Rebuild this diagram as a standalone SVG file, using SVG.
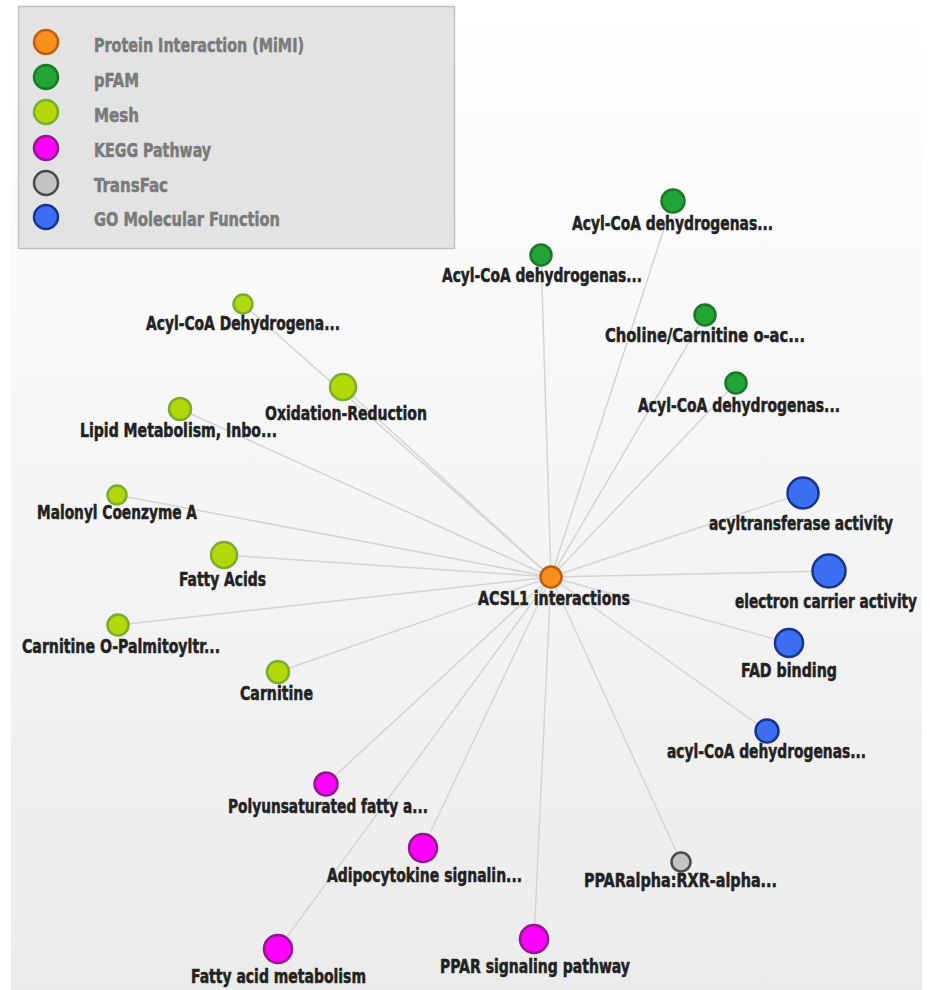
<svg xmlns="http://www.w3.org/2000/svg" width="930" height="990" viewBox="0 0 930 990">
  <defs>
    <linearGradient id="panelFill" x1="0" y1="0" x2="0" y2="1">
      <stop offset="0" stop-color="#ffffff"/>
      <stop offset="1" stop-color="#ebebeb"/>
    </linearGradient>
    <style>
      text { font-family: "Liberation Sans Narrow", "DejaVu Sans Condensed", "Liberation Sans", sans-serif; font-weight: bold; font-size: 19px; }
      .lbl { fill: #222222; stroke: #222222; stroke-width: 0.5; text-anchor: middle; }
      .leg { fill: #7a7a7a; stroke: #7a7a7a; stroke-width: 0.5; }
      .edge { stroke: #d4d4d4; stroke-width: 1.5; fill: none; }
      .mimi { fill: #f7901e; stroke: #c45a0c; stroke-width: 2.5; }
      .pfam { fill: #23a436; stroke: #187a28; stroke-width: 2.5; }
      .mesh { fill: #b2d809; stroke: #79ad2e; stroke-width: 2.5; }
      .kegg { fill: #ff00ff; stroke: #8e1a8c; stroke-width: 2.5; }
      .tf   { fill: #c3c3c3; stroke: #4a4a4a; stroke-width: 2.5; }
      .go   { fill: #3b6ef0; stroke: #17348e; stroke-width: 2.5; }
    </style>
  </defs>

  <!-- canvas -->
  <rect x="0" y="0" width="930" height="990" fill="#ffffff"/>
  <rect x="11" y="0" width="911" height="990" fill="url(#panelFill)"/>

  <!-- legend -->
  <g id="legend">
    <rect x="18.5" y="6.5" width="436" height="242" fill="#e3e3e3" stroke="#c2c2c2" stroke-width="1.5"/>
    <circle class="mimi" cx="46" cy="42" r="12"/>
    <circle class="pfam" cx="46" cy="77" r="12"/>
    <circle class="mesh" cx="46" cy="112" r="12"/>
    <circle class="kegg" cx="46" cy="148" r="12"/>
    <circle class="tf"   cx="46" cy="183" r="12"/>
    <circle class="go"   cx="46" cy="217" r="12"/>
    <text class="leg" x="94" y="52" textLength="210" lengthAdjust="spacingAndGlyphs">Protein Interaction (MiMI)</text>
    <text class="leg" x="94" y="87" textLength="45" lengthAdjust="spacingAndGlyphs">pFAM</text>
    <text class="leg" x="94" y="122" textLength="45" lengthAdjust="spacingAndGlyphs">Mesh</text>
    <text class="leg" x="94" y="157" textLength="117" lengthAdjust="spacingAndGlyphs">KEGG Pathway</text>
    <text class="leg" x="94" y="192" textLength="74" lengthAdjust="spacingAndGlyphs">TransFac</text>
    <text class="leg" x="94" y="226" textLength="186" lengthAdjust="spacingAndGlyphs">GO Molecular Function</text>
  </g>

  <!-- connectors: every node links to the ACSL1 hub -->
  <g id="connectors">
    <line class="edge" x1="551" y1="577" x2="673" y2="201"/>
    <line class="edge" x1="551" y1="577" x2="541" y2="255"/>
    <line class="edge" x1="551" y1="577" x2="705" y2="315"/>
    <line class="edge" x1="551" y1="577" x2="736" y2="383"/>
    <line class="edge" x1="551" y1="577" x2="243" y2="304"/>
    <line class="edge" x1="551" y1="577" x2="343" y2="387"/>
    <line class="edge" x1="551" y1="577" x2="180" y2="409"/>
    <line class="edge" x1="551" y1="577" x2="117" y2="495"/>
    <line class="edge" x1="551" y1="577" x2="224" y2="555"/>
    <line class="edge" x1="551" y1="577" x2="118" y2="625"/>
    <line class="edge" x1="551" y1="577" x2="278" y2="672"/>
    <line class="edge" x1="551" y1="577" x2="326" y2="784"/>
    <line class="edge" x1="551" y1="577" x2="423" y2="848"/>
    <line class="edge" x1="551" y1="577" x2="278" y2="949"/>
    <line class="edge" x1="551" y1="577" x2="534" y2="939"/>
    <line class="edge" x1="551" y1="577" x2="681" y2="862"/>
    <line class="edge" x1="551" y1="577" x2="803" y2="493"/>
    <line class="edge" x1="551" y1="577" x2="829" y2="571"/>
    <line class="edge" x1="551" y1="577" x2="789" y2="643"/>
    <line class="edge" x1="551" y1="577" x2="767" y2="731"/>
  </g>

  <!-- pFAM -->
  <g id="pfam-1"><circle class="pfam" cx="673" cy="201" r="11.5"/><text class="lbl" x="672.5" y="230" textLength="201" lengthAdjust="spacingAndGlyphs">Acyl-CoA dehydrogenas...</text></g>
  <g id="pfam-2"><circle class="pfam" cx="541" cy="255" r="10.5"/><text class="lbl" x="542" y="282" textLength="200" lengthAdjust="spacingAndGlyphs">Acyl-CoA dehydrogenas...</text></g>
  <g id="pfam-3"><circle class="pfam" cx="705" cy="315" r="10.5"/><text class="lbl" x="705" y="342" textLength="200" lengthAdjust="spacingAndGlyphs">Choline/Carnitine o-ac...</text></g>
  <g id="pfam-4"><circle class="pfam" cx="736" cy="383" r="10.5"/><text class="lbl" x="739" y="412" textLength="202" lengthAdjust="spacingAndGlyphs">Acyl-CoA dehydrogenas...</text></g>

  <!-- Mesh -->
  <g id="mesh-1"><circle class="mesh" cx="243" cy="304" r="9.5"/><text class="lbl" x="243" y="330" textLength="194" lengthAdjust="spacingAndGlyphs">Acyl-CoA Dehydrogena...</text></g>
  <g id="mesh-2"><circle class="mesh" cx="343" cy="387" r="13"/><text class="lbl" x="346" y="420" textLength="162" lengthAdjust="spacingAndGlyphs">Oxidation-Reduction</text></g>
  <g id="mesh-3"><circle class="mesh" cx="180" cy="409" r="11"/><text class="lbl" x="178.5" y="437" textLength="197" lengthAdjust="spacingAndGlyphs">Lipid Metabolism, Inbo...</text></g>
  <g id="mesh-4"><circle class="mesh" cx="117" cy="495" r="9.5"/><text class="lbl" x="117" y="519" textLength="160" lengthAdjust="spacingAndGlyphs">Malonyl Coenzyme A</text></g>
  <g id="mesh-5"><circle class="mesh" cx="224" cy="555" r="13"/><text class="lbl" x="222.5" y="586" textLength="87" lengthAdjust="spacingAndGlyphs">Fatty Acids</text></g>
  <g id="mesh-6"><circle class="mesh" cx="118" cy="625" r="10.5"/><text class="lbl" x="121" y="653" textLength="198" lengthAdjust="spacingAndGlyphs">Carnitine O-Palmitoyltr...</text></g>
  <g id="mesh-7"><circle class="mesh" cx="278" cy="672" r="11"/><text class="lbl" x="276.5" y="700" textLength="73" lengthAdjust="spacingAndGlyphs">Carnitine</text></g>

  <!-- hub -->
  <g id="acsl1"><circle class="mimi" cx="551" cy="577" r="10.5"/><text class="lbl" x="554" y="605" textLength="152" lengthAdjust="spacingAndGlyphs">ACSL1 interactions</text></g>

  <!-- GO Molecular Function -->
  <g id="go-1"><circle class="go" cx="803" cy="493" r="15.5"/><text class="lbl" x="801" y="530" textLength="184" lengthAdjust="spacingAndGlyphs">acyltransferase activity</text></g>
  <g id="go-2"><circle class="go" cx="829" cy="571" r="16.5"/><text class="lbl" x="826" y="608" textLength="182" lengthAdjust="spacingAndGlyphs">electron carrier activity</text></g>
  <g id="go-3"><circle class="go" cx="789" cy="643" r="14"/><text class="lbl" x="789" y="677" textLength="96" lengthAdjust="spacingAndGlyphs">FAD binding</text></g>
  <g id="go-4"><circle class="go" cx="767" cy="731" r="11.5"/><text class="lbl" x="766.5" y="758" textLength="199" lengthAdjust="spacingAndGlyphs">acyl-CoA dehydrogenas...</text></g>

  <!-- KEGG Pathway -->
  <g id="kegg-1"><circle class="kegg" cx="326" cy="784" r="11.5"/><text class="lbl" x="328" y="813" textLength="200" lengthAdjust="spacingAndGlyphs">Polyunsaturated fatty a...</text></g>
  <g id="kegg-2"><circle class="kegg" cx="423" cy="848" r="14"/><text class="lbl" x="424.5" y="882" textLength="195" lengthAdjust="spacingAndGlyphs">Adipocytokine signalin...</text></g>
  <g id="kegg-3"><circle class="kegg" cx="278" cy="949" r="14"/><text class="lbl" x="278.5" y="983" textLength="175" lengthAdjust="spacingAndGlyphs">Fatty acid metabolism</text></g>
  <g id="kegg-4"><circle class="kegg" cx="534" cy="939" r="14"/><text class="lbl" x="535" y="973" textLength="190" lengthAdjust="spacingAndGlyphs">PPAR signaling pathway</text></g>

  <!-- TransFac -->
  <g id="transfac-1"><circle class="tf" cx="681" cy="862" r="9.5"/><text class="lbl" x="680.5" y="887" textLength="193" lengthAdjust="spacingAndGlyphs">PPARalpha:RXR-alpha...</text></g>
</svg>
